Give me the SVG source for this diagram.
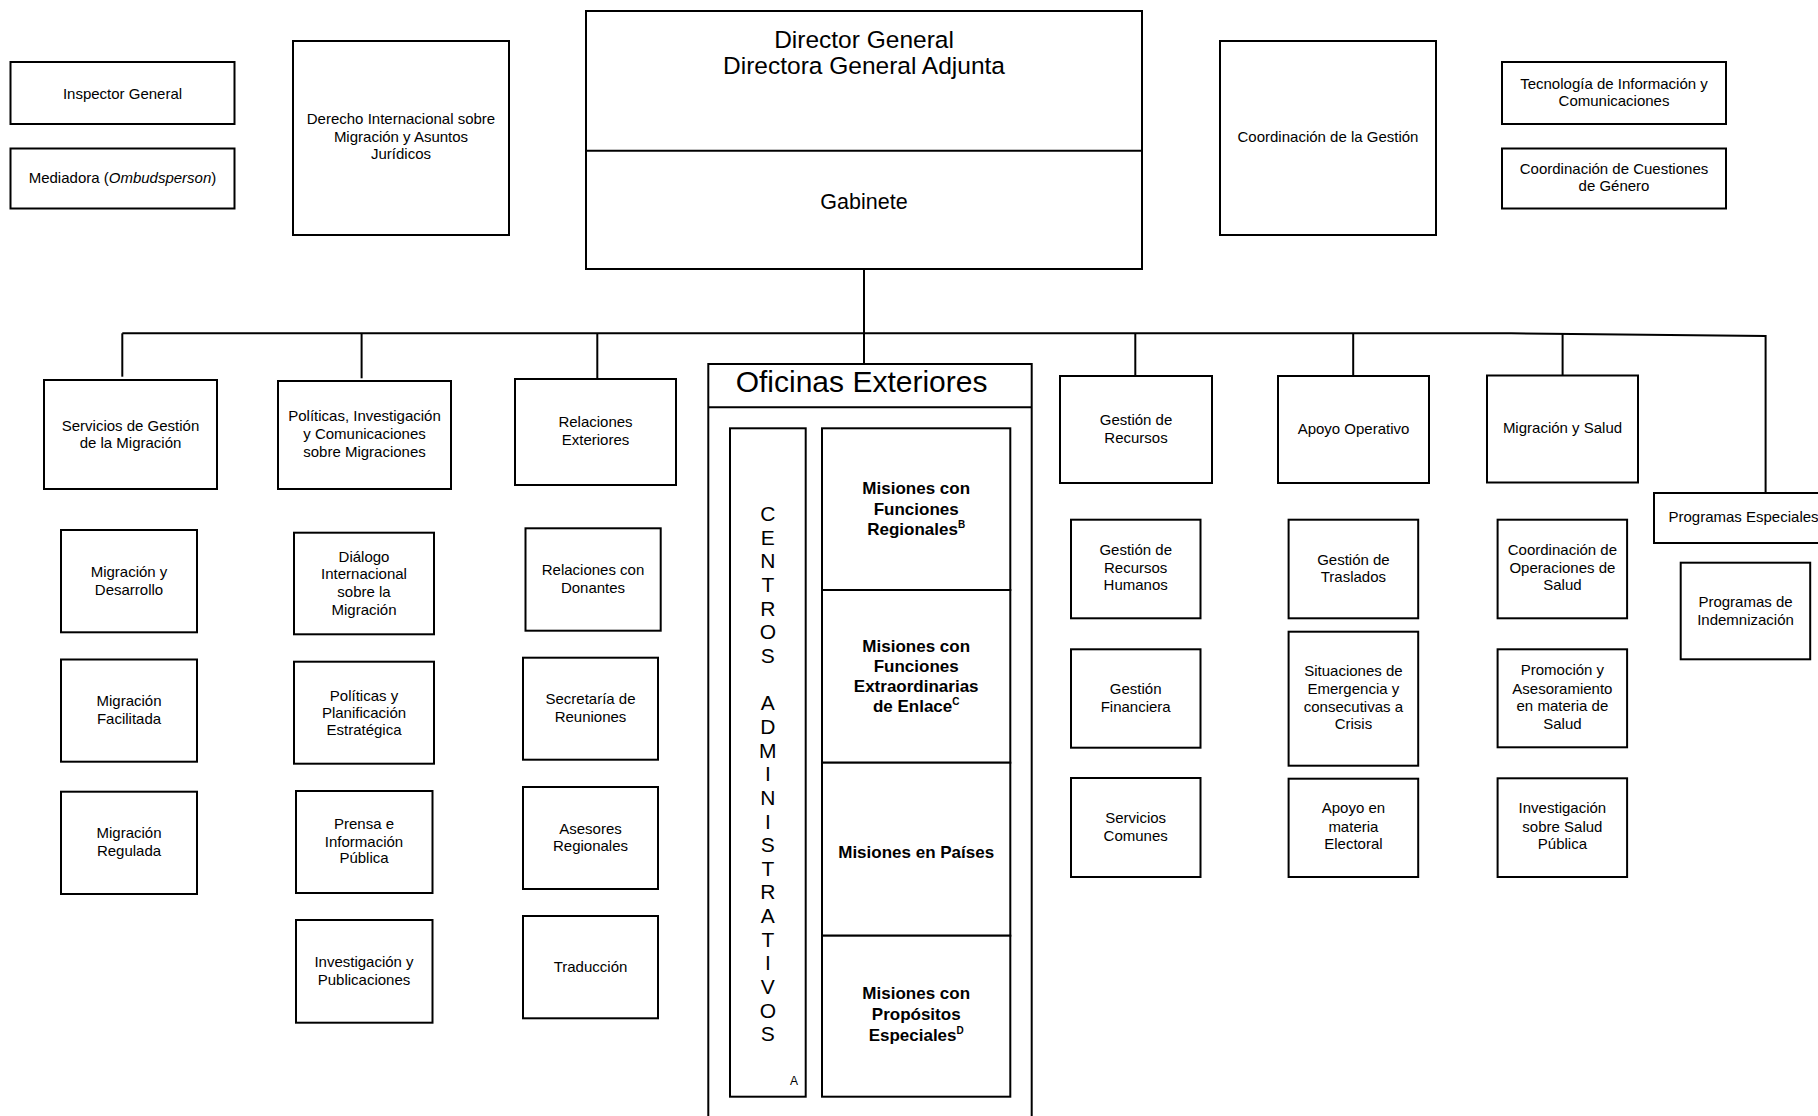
<svg xmlns="http://www.w3.org/2000/svg" width="1818" height="1116" viewBox="0 0 1818 1116">
<style>
.b{fill:#fff;stroke:#000;stroke-width:2}
.c{fill:none;stroke:#000;stroke-width:2}
text{font-family:"Liberation Sans",Arial,sans-serif;font-size:15px;fill:#000;text-anchor:middle}
.bd{font-weight:bold;font-size:17px}
.big{font-size:24.5px}
.gab{font-size:21.5px}
.of{font-size:30px;text-anchor:start}
.st{text-anchor:start}
.v{font-size:21px}
.sm{font-size:12px}
</style>
<rect width="1818" height="1116" fill="#fff"/>
<g id="connectors">
<path class="c" d="M864,269 V364"/>
<path class="c" d="M122.3,333.3 H1511 L1765.6,336 V493"/>
<path class="c" d="M122.3,333.3 V376.7"/>
<path class="c" d="M361.6,333.3 V378.3"/>
<path class="c" d="M597.3,333.3 V379"/>
<path class="c" d="M1135.3,333.3 V376"/>
<path class="c" d="M1353.2,333.3 V376"/>
<path class="c" d="M1562.6,334 V375.5"/>
</g>
<g id="inspector"><rect class="b" x="10.5" y="62" width="224" height="62"/><text x="122.5" y="99">Inspector General</text></g>
<g id="mediadora"><rect class="b" x="10.5" y="148.5" width="224" height="60"/><text x="122.5" y="182.7">Mediadora (<tspan font-style="italic">Ombudsperson</tspan>)</text></g>
<g id="derecho"><rect class="b" x="293" y="41" width="216" height="194"/><text x="401" y="124">Derecho Internacional sobre</text><text x="401" y="141.7">Migración y Asuntos</text><text x="401" y="159.3">Jurídicos</text></g>
<g id="director"><rect class="b" x="586" y="11" width="556" height="258"/><path class="c" d="M586,150.7 H1142"/><text class="big" x="864" y="47.7">Director General</text><text class="big" x="864" y="74">Directora General Adjunta</text><text class="gab" x="864" y="209">Gabinete</text></g>
<g id="coordGestion"><rect class="b" x="1220" y="41" width="216" height="194"/><text x="1328" y="141.7">Coordinación de la Gestión</text></g>
<g id="tecnologia"><rect class="b" x="1502" y="62" width="224" height="62"/><text x="1614" y="89.3">Tecnología de Información y</text><text x="1614" y="106">Comunicaciones</text></g>
<g id="genero"><rect class="b" x="1502" y="148.5" width="224" height="60"/><text x="1614" y="174">Coordinación de Cuestiones</text><text x="1614" y="190.7">de Género</text></g>

<g id="servicios"><rect class="b" x="44" y="380" width="173" height="109"/><text x="130.5" y="430.7">Servicios de Gestión</text><text x="130.5" y="448.3">de la Migración</text></g>
<g id="politicas"><rect class="b" x="278" y="381" width="173" height="108"/><text x="364.5" y="421">Políticas, Investigación</text><text x="364.5" y="438.7">y Comunicaciones</text><text x="364.5" y="456.7">sobre Migraciones</text></g>
<g id="relExt"><rect class="b" x="515" y="379" width="161" height="106"/><text x="595.5" y="426.7">Relaciones</text><text x="595.5" y="444.7">Exteriores</text></g>
<g id="gestRec"><rect class="b" x="1060" y="376" width="152" height="107"/><text x="1136" y="425">Gestión de</text><text x="1136" y="442.7">Recursos</text></g>
<g id="apoyo"><rect class="b" x="1278" y="376" width="151" height="107"/><text x="1353.5" y="434">Apoyo Operativo</text></g>
<g id="migSalud"><rect class="b" x="1487" y="375.5" width="151" height="107"/><text x="1562.5" y="432.7">Migración y Salud</text></g>
<g id="progEsp"><rect class="b" x="1654" y="493" width="180" height="50"/><text class="st" x="1668.5" y="521.7">Programas Especiales</text></g>

<g id="migDes"><rect class="b" x="61" y="530" width="136" height="102.3"/><text x="129" y="577.3">Migración y</text><text x="129" y="595">Desarrollo</text></g>
<g id="migFac"><rect class="b" x="61" y="659.5" width="136" height="102.2"/><text x="129" y="706.3">Migración</text><text x="129" y="724">Facilitada</text></g>
<g id="migReg"><rect class="b" x="61" y="791.7" width="136" height="102.3"/><text x="129" y="837.7">Migración</text><text x="129" y="855.7">Regulada</text></g>

<g id="dialogo"><rect class="b" x="294" y="532.7" width="140" height="101.6"/><text x="364" y="561.7">Diálogo</text><text x="364" y="579.3">Internacional</text><text x="364" y="596.7">sobre la</text><text x="364" y="615">Migración</text></g>
<g id="polPlan"><rect class="b" x="294" y="661.7" width="140" height="102"/><text x="364" y="700.6">Políticas y</text><text x="364" y="718">Planificación</text><text x="364" y="735.4">Estratégica</text></g>
<g id="prensa"><rect class="b" x="296" y="791" width="136.5" height="102"/><text x="364" y="829">Prensa e</text><text x="364" y="846.7">Información</text><text x="364" y="863.3">Pública</text></g>
<g id="investPub"><rect class="b" x="296" y="920" width="136.5" height="102.7"/><text x="364" y="966.7">Investigación y</text><text x="364" y="985">Publicaciones</text></g>

<g id="donantes"><rect class="b" x="525.5" y="528.3" width="135.2" height="102.4"/><text x="593" y="575.3">Relaciones con</text><text x="593" y="592.7">Donantes</text></g>
<g id="secretaria"><rect class="b" x="523" y="657.7" width="135" height="102"/><text x="590.5" y="704">Secretaría de</text><text x="590.5" y="721.7">Reuniones</text></g>
<g id="asesores"><rect class="b" x="523" y="787" width="135" height="102"/><text x="590.5" y="834">Asesores</text><text x="590.5" y="850.7">Regionales</text></g>
<g id="traduccion"><rect class="b" x="523" y="916" width="135" height="102.3"/><text x="590.5" y="971.7">Traducción</text></g>

<g id="oficinas">
<path class="b" d="M708.3,1120 V364 H1031.7 V1120"/>
<path class="c" d="M708.3,407.3 H1031.7"/>
<text class="of" x="735.7" y="391.7">Oficinas Exteriores</text>
</g>
<g id="centros"><rect class="b" x="730" y="428.3" width="75.7" height="668.4"/>
<text class="v" x="767.8"><tspan x="767.8" y="521">C</tspan><tspan x="767.8" y="544.7">E</tspan><tspan x="767.8" y="568.3">N</tspan><tspan x="767.8" y="592">T</tspan><tspan x="767.8" y="615.6">R</tspan><tspan x="767.8" y="639.3">O</tspan><tspan x="767.8" y="662.9">S</tspan><tspan x="767.8" y="710.2">A</tspan><tspan x="767.8" y="733.9">D</tspan><tspan x="767.8" y="757.5">M</tspan><tspan x="767.8" y="781.2">I</tspan><tspan x="767.8" y="804.8">N</tspan><tspan x="767.8" y="828.5">I</tspan><tspan x="767.8" y="852.1">S</tspan><tspan x="767.8" y="875.8">T</tspan><tspan x="767.8" y="899.4">R</tspan><tspan x="767.8" y="923.1">A</tspan><tspan x="767.8" y="946.7">T</tspan><tspan x="767.8" y="970.4">I</tspan><tspan x="767.8" y="994">V</tspan><tspan x="767.8" y="1017.7">O</tspan><tspan x="767.8" y="1041.3">S</tspan></text>
<text class="sm" x="794" y="1085">A</text></g>
<g id="misRegionales"><rect class="b" x="822" y="428.3" width="188.3" height="161.7"/><text class="bd" x="916.2" y="494">Misiones con</text><text class="bd" x="916.2" y="515">Funciones</text><text class="bd" x="916.2" y="535">Regionales<tspan dy="-7" font-size="10">B</tspan></text></g>
<g id="misEnlace"><rect class="b" x="822" y="590" width="188.3" height="172.7"/><text class="bd" x="916.2" y="651.7">Misiones con</text><text class="bd" x="916.2" y="671.7">Funciones</text><text class="bd" x="916.2" y="692.3">Extraordinarias</text><text class="bd" x="916.2" y="712.3">de Enlace<tspan dy="-7" font-size="10">C</tspan></text></g>
<g id="misPaises"><rect class="b" x="822" y="762.7" width="188.3" height="173"/><text class="bd" x="916.2" y="858.3">Misiones en Países</text></g>
<g id="misEspeciales"><rect class="b" x="822" y="935.7" width="188.3" height="161"/><text class="bd" x="916.2" y="999.3">Misiones con</text><text class="bd" x="916.2" y="1020">Propósitos</text><text class="bd" x="916.2" y="1040.7">Especiales<tspan dy="-7" font-size="10">D</tspan></text></g>

<g id="rrhh"><rect class="b" x="1071" y="519.7" width="129.5" height="98.6"/><text x="1135.7" y="555">Gestión de</text><text x="1135.7" y="572.7">Recursos</text><text x="1135.7" y="590">Humanos</text></g>
<g id="financiera"><rect class="b" x="1071" y="649.3" width="129.5" height="98.4"/><text x="1135.7" y="693.7">Gestión</text><text x="1135.7" y="711.7">Financiera</text></g>
<g id="comunes"><rect class="b" x="1071" y="778" width="129.5" height="99"/><text x="1135.7" y="822.7">Servicios</text><text x="1135.7" y="840.7">Comunes</text></g>

<g id="traslados"><rect class="b" x="1288.6" y="519.7" width="129.6" height="98.6"/><text x="1353.4" y="565">Gestión de</text><text x="1353.4" y="581.7">Traslados</text></g>
<g id="emergencia"><rect class="b" x="1288.6" y="631.7" width="129.6" height="134"/><text x="1353.4" y="676.3">Situaciones de</text><text x="1353.4" y="693.7">Emergencia y</text><text x="1353.4" y="711.7">consecutivas a</text><text x="1353.4" y="729.3">Crisis</text></g>
<g id="electoral"><rect class="b" x="1288.6" y="778.7" width="129.6" height="98.3"/><text x="1353.4" y="813.3">Apoyo en</text><text x="1353.4" y="831.7">materia</text><text x="1353.4" y="849.3">Electoral</text></g>

<g id="coordOps"><rect class="b" x="1497.6" y="519.7" width="129.5" height="98.6"/><text x="1562.4" y="555">Coordinación de</text><text x="1562.4" y="572.7">Operaciones de</text><text x="1562.4" y="590">Salud</text></g>
<g id="promocion"><rect class="b" x="1497.6" y="649.3" width="129.5" height="98"/><text x="1562.4" y="675">Promoción y</text><text x="1562.4" y="693.7">Asesoramiento</text><text x="1562.4" y="711">en materia de</text><text x="1562.4" y="728.5">Salud</text></g>
<g id="investSalud"><rect class="b" x="1497.6" y="778.3" width="129.5" height="98.7"/><text x="1562.4" y="813.3">Investigación</text><text x="1562.4" y="831.7">sobre Salud</text><text x="1562.4" y="849.3">Pública</text></g>

<g id="indemnizacion"><rect class="b" x="1680.7" y="562.7" width="129.5" height="96.6"/><text x="1745.5" y="607.3">Programas de</text><text x="1745.5" y="625">Indemnización</text></g>
</svg>
